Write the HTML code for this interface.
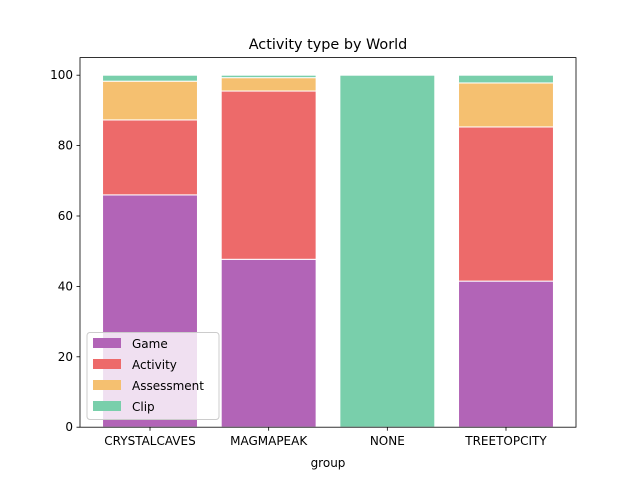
<!DOCTYPE html>
<html><head><meta charset="utf-8"><style>
body{margin:0;background:#fff;}
svg{display:block;font-family:"DejaVu Sans","Liberation Sans",sans-serif;}
</style></head><body>
<svg id="chart" width="640" height="480" viewBox="0 0 640 480" xmlns="http://www.w3.org/2000/svg">
<rect width="640" height="480" fill="#fff"/>
<text x="328" y="49" text-anchor="middle" font-size="14.4">Activity type by World</text>
<g id="bars"></g>
<g id="axes"></g>
<g id="legend"></g>
</svg>
<script>
const categories=["CRYSTALCAVES","MAGMAPEAK","NONE","TREETOPCITY"];
const seriesNames=["Game","Activity","Assessment","Clip"];
const game=[66,47.7,0,41.5];
const activity=[21.3,47.8,0,43.8];
const assessment=[11,3.8,0,12.5];
const clip=[1.7,0.7,100,2.2];
const yTicks=[0,20,40,60,80,100];
const colors=["#b264b7","#ed6a6a","#f5c070","#79cfab"];
const series=[game,activity,assessment,clip];
const NS="http://www.w3.org/2000/svg";
const L=80,R=576,T=57.6,B=427.2;
const xmin=-0.59,xmax=3.59,ymax=105;
const xs=v=>L+(v-xmin)/(xmax-xmin)*(R-L);
const ys=v=>B-v/ymax*(B-T);
function mk(tag,attrs,parent){const e=document.createElementNS(NS,tag);for(const k in attrs)e.setAttribute(k,attrs[k]);parent.appendChild(e);return e;}
const bars=document.getElementById("bars");
categories.forEach((c,i)=>{let base=0;
 series.forEach((s,j)=>{const v=s[i];if(v>0){
  const r=mk("rect",{x:xs(i-0.4),y:ys(base+v),width:xs(i+0.4)-xs(i-0.4),height:ys(base)-ys(base+v),fill:colors[j],stroke:"#fff","stroke-width":1},bars);
  
  }
  base+=v;});});
const ax=document.getElementById("axes");
const fr=mk("rect",{x:L,y:T,width:R-L,height:B-T,fill:"none",stroke:"#000","stroke-width":0.8},ax);


yTicks.forEach(t=>{const y=ys(t);mk("line",{x1:L-3.5,x2:L,y1:y,y2:y,stroke:"#000","stroke-width":0.8},ax);
 const tx=mk("text",{x:L-7,y:y+4,"text-anchor":"end","font-size":"12"},ax);tx.textContent=t;
 
 });
categories.forEach((c,i)=>{const x=xs(i);mk("line",{x1:x,x2:x,y1:B,y2:B+3.5,stroke:"#000","stroke-width":0.8},ax);
 const tx=mk("text",{x:x,y:B+18,"text-anchor":"middle","font-size":"12"},ax);tx.textContent=c;
 
 });
const xt=mk("text",{x:(L+R)/2,y:467,"text-anchor":"middle","font-size":"12"},ax);xt.textContent="group";


const lg=document.getElementById("legend");
const box=mk("rect",{x:87,y:332.5,width:132,height:87,rx:3,fill:"#fff","fill-opacity":0.8,stroke:"#ccc","stroke-width":1},lg);


seriesNames.forEach((n,j)=>{const y=338+j*21;
 mk("rect",{x:93,y:y,width:28,height:10,fill:colors[j]},lg);
 const tx=mk("text",{x:132,y:y+10,"font-size":"12"},lg);tx.textContent=n;
 
 });
</script>
</body></html>
